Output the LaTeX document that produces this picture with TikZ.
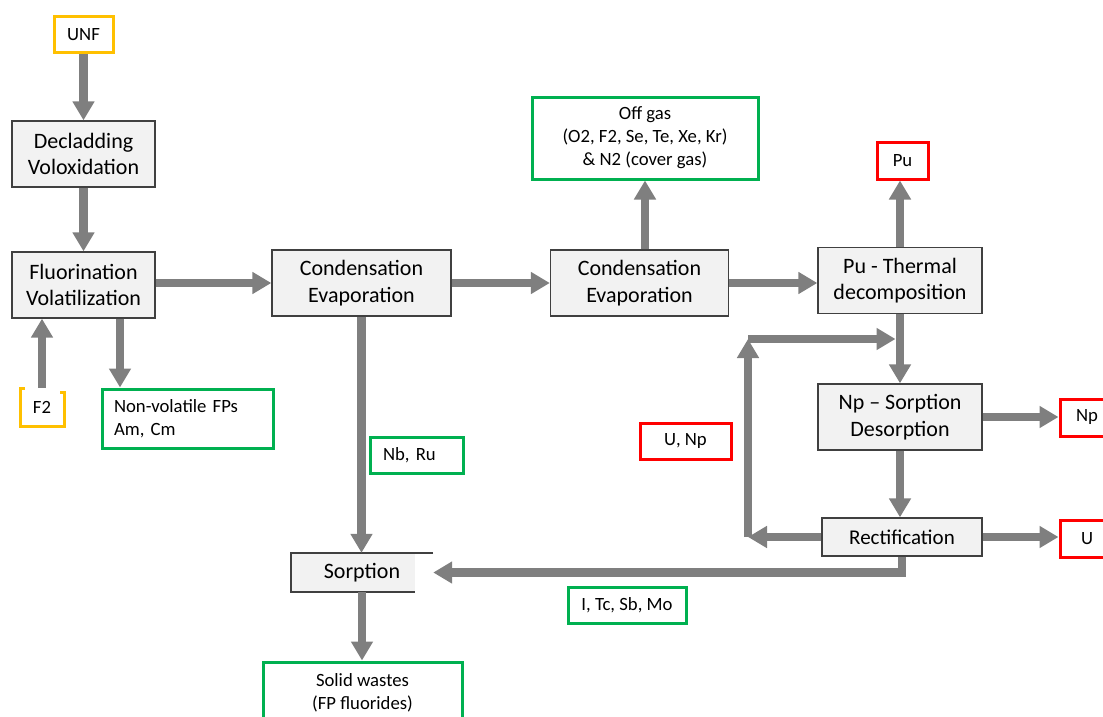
\documentclass[tikz,border=0pt]{standalone}
\usepackage{fontspec}
\setmainfont{Carlito}
\usetikzlibrary{arrows.meta}
\definecolor{orng}{HTML}{FFC000}
\definecolor{grn}{HTML}{00B050}
\definecolor{rd}{HTML}{FF0000}
\definecolor{arrgray}{HTML}{7F7F7F}
\definecolor{boxfill}{HTML}{F2F2F2}
\definecolor{boxline}{HTML}{404040}
\begin{document}
\begin{tikzpicture}[x=1pt,y=-1pt,
  proc/.style={draw=boxline, fill=boxfill, line width=1.3pt, align=center, inner sep=0pt, font=\fontsize{22}{26.5}\selectfont},
  tag/.style={draw=#1, fill=white, line width=3pt, align=center, inner sep=0pt, font=\fontsize{18.7}{23}\selectfont},
  smallfont/.style={font=\fontsize{18.7}{23}\selectfont},
  flow/.style={draw=arrgray, line width=8.5pt, -{Triangle[width=21pt,length=19pt]}},
]
\useasboundingbox (0,0) rectangle (1103,717);
\clip (0,0) rectangle (1103,717);

% process boxes
\node[proc, minimum width=143pt, minimum height=66pt] (decl) at (83.5,154) {Decladding\\Voloxidation};
\node[proc, minimum width=143pt, minimum height=66pt] (fluor) at (83.5,285) {Fluorination\\Volatilization};
\node[proc, minimum width=179pt, minimum height=66pt] (cond1) at (361.5,283) {Condensation\\Evaporation};
\node[proc, minimum width=178pt, minimum height=66pt] (cond2) at (639.5,283) {Condensation\\Evaporation};
\node[proc, minimum width=164pt, minimum height=66pt] (puth) at (900,280.5) {Pu - Thermal\\decomposition};
\node[proc, minimum width=164pt, minimum height=66pt] (npsd) at (900,417) {Np -- Sorption\\Desorption};
\node[proc, minimum width=160pt, minimum height=38pt, font=\fontsize{21}{25}\selectfont] (rect) at (902,537) {Rectification};

% sorption box (partly open on the right)
\fill[boxfill] (291,553) rectangle (415,592);
\draw[boxline, line width=1.3pt] (433,553) -- (291,553) -- (291,592) -- (415,592);
\node[inner sep=0pt, minimum width=142pt, minimum height=39pt, font=\fontsize{22}{26.5}\selectfont] (sorp) at (362,572.5) {Sorption};

% coloured tags
\node[tag=orng, minimum width=59pt, minimum height=36pt] (unf) at (83.5,34.5) {UNF};
\node[smallfont, inner sep=0pt, minimum width=44pt, minimum height=38pt] (f2) at (42,407) {F2};
\draw[orng, line width=3pt] (25,388) -- (20,388) -- (20,426) -- (64,426) -- (64,392) -- (60,392);
\node[tag=grn, minimum height=59pt, text width=147pt, inner xsep=12pt, align=left] (nonvol) at (187.5,418.5) {Non-volatile FPs\\Am, Cm};
\node[tag=grn, minimum height=36pt, text width=67pt, inner xsep=13pt, align=left] (nbru) at (416.5,455) {Nb, Ru};
\node[tag=grn, minimum width=226pt, minimum height=82pt] (offgas) at (645,138) {Off gas\\(O2, F2, Se, Te, Xe, Kr)\\\& N2 (cover gas)};
\node[tag=rd, minimum width=51pt, minimum height=37pt] (pu) at (902.5,160.5) {Pu};
\node[tag=rd, minimum width=54pt, minimum height=37pt] (np) at (1087,417.5) {Np};
\node[tag=rd, minimum width=54pt, minimum height=37pt] (u) at (1087,538.5) {U};
\node[tag=rd, minimum width=91pt, minimum height=36pt] (unp) at (685.5,441) {U, Np};
\node[tag=grn, minimum width=118pt, minimum height=36pt] (itc) at (627,605) {I, Tc, Sb, Mo};
\node[tag=grn, minimum width=199pt, minimum height=62pt] (solid) at (362.5,693) {Solid wastes\\(FP fluorides)};

% connectors
\draw[flow] (unf.south) -- (decl.north);
\draw[flow] (decl.south) -- (fluor.north);
\draw[flow] (fluor.east |- cond1.west) -- (cond1.west);
\draw[flow] (cond1.east) -- (cond2.west |- cond1.east);
\draw[flow] (cond2.east) -- (puth.west |- cond2.east);
\draw[flow] (offgas.south |- cond2.north) -- (offgas.south);
\draw[flow] (puth.north) -- (puth.north |- pu.south);
\draw[flow] (puth.south) -- (npsd.north);
\draw[flow] (npsd.east) -- (np.west |- npsd.east);
\draw[flow] (npsd.south) -- (npsd.south |- rect.north);
\draw[flow] (rect.east) -- (u.west |- rect.east);

\coordinate (lt) at (748,339);
\coordinate (lb) at (rect.west -| lt);
\coordinate (lj) at (895.5,339);
\draw[flow] (rect.west) -- (lb);
\draw[flow] (lb) -- (lt);
\draw[flow] (lt) -- (lj);

\draw[flow] (rect.south) |- (sorp.east);
\draw[flow] (cond1.south) -- (cond1.south |- sorp.north);
\draw[flow] (sorp.south) -- (sorp.south |- solid.north);
\draw[flow] (f2.north) -- (f2.north |- fluor.south);
\draw[flow] ([xshift=36.5pt]fluor.south) -- ([xshift=36.5pt]fluor.south |- nonvol.north);
\end{tikzpicture}
\end{document}
